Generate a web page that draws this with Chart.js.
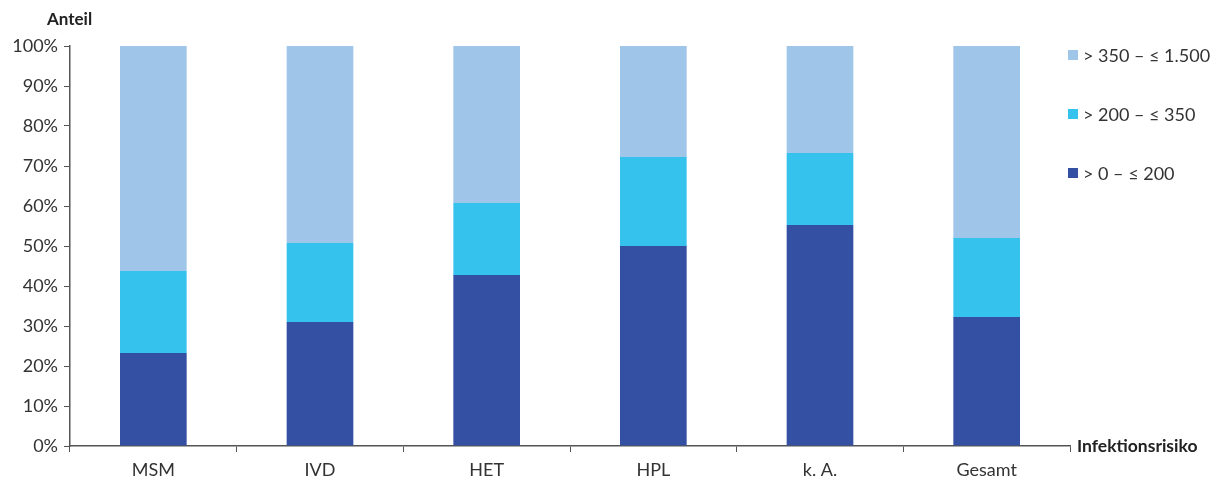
<!DOCTYPE html>
<html>
<head>
<meta charset="utf-8">
<script src="https://cdn.jsdelivr.net/npm/chart.js@4"></script>
<style>
  html, body { margin: 0; padding: 0; background: #fff; }
  #wrap { width: 1216px; height: 484px; position: relative; }
</style>
</head>
<body>
<div id="wrap"><canvas id="chart" width="1216" height="484"></canvas></div>
<script>
const categories = ["MSM", "IVD", "HET", "HPL", "k. A.", "Gesamt"];
const seriesLabels = ["> 0 – ≤ 200", "> 200 – ≤ 350", "> 350 – ≤ 1.500"];
const low = [23.25, 31, 42.75, 50, 55.25, 32.25];
const mid = [20.5, 19.75, 18, 22.25, 18, 19.75];
const high = [56.25, 49.25, 39.25, 27.75, 26.75, 48];
const colors = ["#3450a2", "#35c3ee", "#9fc5e9"];

const fontFamily = "Lato, 'Open Sans', sans-serif";
const textColor = "#333333";
const axisColor = "#555555";

const extras = {
  id: "extras",
  afterDraw(chart) {
    const ctx = chart.ctx;
    const area = chart.chartArea;
    ctx.save();
    ctx.fillStyle = "#222";
    ctx.textBaseline = "middle";
    ctx.textAlign = "left";
    ctx.font = "bold 17px " + fontFamily;
    ctx.fillText("Anteil", 47, 20);
    ctx.font = "bold 17.5px " + fontFamily;
    ctx.fillText("Infektionsrisiko", area.right + 7, area.bottom);

    // legend, top item is last dataset
    const ys = [55, 114, 173];
    ctx.font = "18px " + fontFamily;
    chart.data.datasets.slice().reverse().forEach((ds, i) => {
      ctx.fillStyle = ds.backgroundColor;
      ctx.fillRect(1068, ys[i] - 5, 10, 10);
      ctx.fillStyle = textColor;
      ctx.fillText(ds.label, 1083, ys[i] + 1);
    });
    ctx.restore();
  }
};

new Chart(document.getElementById("chart"), {
  type: "bar",
  data: {
    labels: categories,
    datasets: [
      { label: seriesLabels[0], data: low, backgroundColor: colors[0] },
      { label: seriesLabels[1], data: mid, backgroundColor: colors[1] },
      { label: seriesLabels[2], data: high, backgroundColor: colors[2] },
    ],
  },
  options: {
    responsive: false,
    animation: false,
    maintainAspectRatio: false,
    layout: { padding: { top: 46, right: 146, left: 0, bottom: 0 } },
    datasets: { bar: { barPercentage: 0.4, categoryPercentage: 1 } },
    plugins: { legend: { display: false }, tooltip: { enabled: false } },
    scales: {
      x: {
        stacked: true,
        afterFit(scale) { scale.height = 38; },
        grid: { drawOnChartArea: false, drawTicks: true, tickLength: 6, color: axisColor, offset: true },
        border: { color: axisColor, width: 1.5 },
        ticks: { color: textColor, font: { family: fontFamily, size: 18 }, padding: 7 },
      },
      y: {
        stacked: true,
        min: 0,
        max: 100,
        afterFit(scale) { scale.width = 70; },
        grid: { drawOnChartArea: false, drawTicks: true, tickLength: 6, color: axisColor },
        border: { color: axisColor, width: 1.5 },
        ticks: {
          stepSize: 10,
          color: textColor,
          padding: 6,
          font: { family: fontFamily, size: 18 },
          callback: (v) => v + "%",
        },
      },
    },
  },
  plugins: [extras],
});
</script>
</body>
</html>
